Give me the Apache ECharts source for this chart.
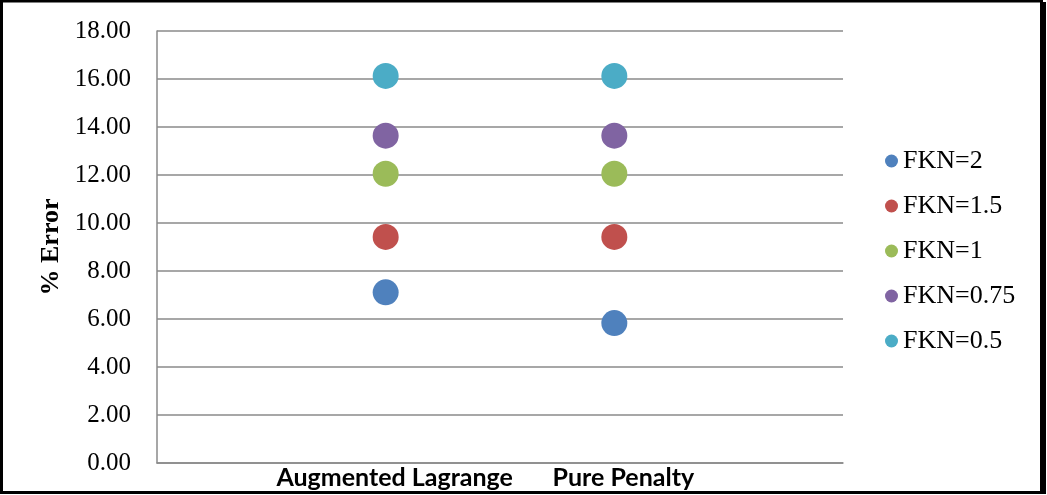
<!DOCTYPE html>
<html>
<head>
<meta charset="utf-8">
<script src="https://cdn.jsdelivr.net/npm/echarts@6/dist/echarts.min.js"></script>
<style>
  html, body { margin: 0; padding: 0; background: #fff; }
  #chart { width: 1047px; height: 495px; }
</style>
</head>
<body>
<div id="chart"></div>
<script>
// Methods compared on the horizontal axis
const categories = ["Augmented Lagrange", "Pure Penalty"];

// % error per method for each FKN setting
const fkn2   = [7.11, 5.83];
const fkn1_5 = [9.42, 9.42];
const fkn1   = [12.05, 12.05];
const fkn075 = [13.64, 13.64];
const fkn05  = [16.13, 16.13];

const seriesNames = ["FKN=2", "FKN=1.5", "FKN=1", "FKN=0.75", "FKN=0.5"];
const seriesValues = [fkn2, fkn1_5, fkn1, fkn075, fkn05];
const colors = ["#4F81BD", "#C0504D", "#9BBB59", "#8064A2", "#4BACC6"];

// Y axis ticks
const yMin = 0, yMax = 18, yStep = 2;

// Empty slots on both ends so the methods sit on interior tick positions
const axisCats = [""].concat(categories, [""]);

const chart = echarts.init(document.getElementById("chart"), null, { renderer: "canvas" });

const option = {
  backgroundColor: "#ffffff",
  animation: false,
  color: colors,
  grid: { left: 157, right: 204, top: 31, bottom: 32, containLabel: false },
  legend: {
    orient: "vertical",
    left: 880,
    top: 143,
    itemWidth: 13,
    itemHeight: 13,
    itemGap: 19,
    icon: "circle",
    data: seriesNames,
    textStyle: {
      fontFamily: "Liberation Serif",
      fontSize: 26,
      lineHeight: 26,
      color: "#000"
    }
  },
  xAxis: {
    type: "category",
    data: axisCats,
    boundaryGap: false,
    axisLine: { lineStyle: { color: "#8a8a8a", width: 1.5 } },
    axisTick: { show: false },
    splitLine: { show: false },
    axisLabel: {
      interval: 0,
      margin: 2,
      padding: [0, 0, 0, 18],
      fontFamily: "Lato",
      fontWeight: "bold",
      fontSize: 25,
      color: "#000"
    }
  },
  yAxis: {
    type: "value",
    min: yMin,
    max: yMax,
    interval: yStep,
    name: "% Error",
    nameLocation: "middle",
    nameGap: 91,
    nameTextStyle: {
      fontFamily: "Liberation Serif",
      fontWeight: "bold",
      fontSize: 26,
      color: "#000"
    },
    axisLine: { show: true, lineStyle: { color: "#8a8a8a", width: 1.5 } },
    axisTick: { show: false },
    splitLine: { lineStyle: { color: "#8a8a8a", width: 1.5 } },
    axisLabel: {
      margin: 26,
      fontFamily: "Liberation Serif",
      fontSize: 25,
      color: "#000",
      formatter: v => v.toFixed(2)
    }
  },
  series: seriesNames.map((name, i) => ({
    name: name,
    type: "scatter",
    symbol: "circle",
    symbolSize: 26,
    itemStyle: { color: colors[i], opacity: 1 },
    data: categories.map((c, j) => [c, seriesValues[i][j]])
  })),
  graphic: [
    {
      type: "rect",
      silent: true,
      shape: { x: 1.5, y: 1, width: 1040, height: 491.5 },
      style: { fill: "none", stroke: "#000", lineWidth: 3 }
    },
    {
      type: "rect",
      silent: true,
      shape: { x: 1043, y: 2, width: 3, height: 492 },
      style: { fill: "#000" }
    }
  ]
};

chart.setOption(option);
</script>
</body>
</html>
